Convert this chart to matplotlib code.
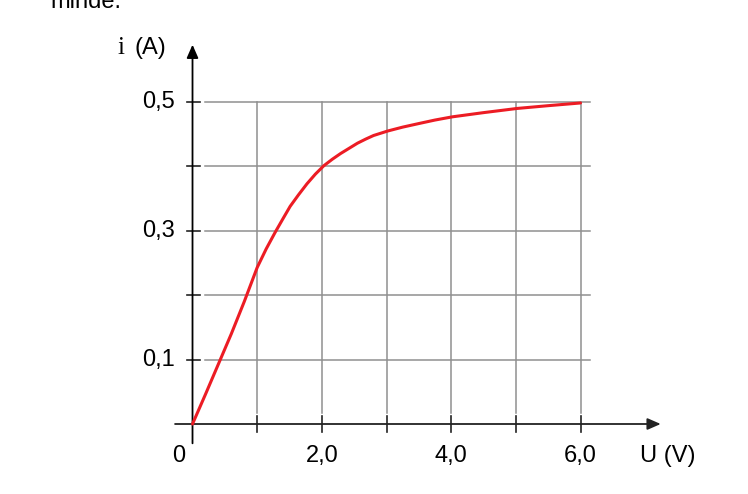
import matplotlib
matplotlib.use("Agg")
import matplotlib.pyplot as plt

# values
u = [0.0, 0.2, 0.4, 0.6, 0.8, 1.0, 1.14, 1.28, 1.4, 1.51, 1.64, 1.77, 1.9,
     2.03, 2.16, 2.29, 2.42, 2.55, 2.68, 2.8, 3.02, 3.25, 3.52, 3.75, 4.02, 4.5,
     5.02, 5.5, 6.0]
i = [0.0, 0.046, 0.093, 0.14, 0.19, 0.243, 0.272, 0.298, 0.319, 0.338, 0.356,
     0.373, 0.388, 0.401, 0.411, 0.42, 0.428, 0.436, 0.4425, 0.448, 0.455, 0.461,
     0.467, 0.472, 0.477, 0.4835, 0.49, 0.4943, 0.4985]

x_grid = [1, 2, 3, 4, 5, 6]
y_grid = [0.1, 0.2, 0.3, 0.4, 0.5]
x_labels = {2: "2,0", 4: "4,0", 6: "6,0"}
y_labels = {0.1: "0,1", 0.3: "0,3", 0.5: "0,5"}

plt.rcParams['font.family'] = ['Liberation Sans', 'DejaVu Sans']
fs = 17

fig = plt.figure(figsize=(7.48, 4.94), dpi=100)
ax = fig.add_axes([0, 0, 1, 1])
ax.set_xlim(-2.977, 8.59)
ax.set_ylim(-0.1087, 0.6584)
ax.axis("off")

grid_col = "#8f8f8f"
for gx in x_grid:
    ax.plot([gx, gx], [0.017, 0.5], color=grid_col, lw=1.1, zorder=1)
for gy in y_grid:
    ax.plot([0.19, 6.15], [gy, gy], color=grid_col, lw=1.1, zorder=1)

# ticks
for gx in x_grid:
    ax.plot([gx, gx], [-0.012, 0.012], color="#222222", lw=1.2, zorder=3)
for gy in y_grid:
    ax.plot([-0.09, 0.12], [gy, gy], color="#222222", lw=1.2, zorder=3)

# axes with arrows
ax.annotate("", xy=(7.24, 0), xytext=(-0.27, 0),
            arrowprops=dict(arrowstyle="-|>,head_length=0.8,head_width=0.35",
                            color="#222222", lw=1.3, shrinkA=0, shrinkB=0), zorder=4)
ax.annotate("", xy=(0, 0.589), xytext=(0, -0.03),
            arrowprops=dict(arrowstyle="-|>,head_length=0.8,head_width=0.35",
                            color="#000000", lw=1.3, shrinkA=0, shrinkB=0), zorder=4)

ax.plot(u, i, color="#ec1c24", lw=2.2, zorder=5,
        solid_capstyle="round", solid_joinstyle="round")

for v, s in y_labels.items():
    ax.text(-0.27, v, s, ha="right", va="center", fontsize=fs)
ax.text(-0.22, -0.049, "0", ha="center", va="center", fontsize=fs)
for v, s in x_labels.items():
    ax.text(v, -0.049, s, ha="center", va="center", fontsize=fs)
ax.text(7.35, -0.049, "U (V)", ha="center", va="center", fontsize=fs)

ax.text(-1.105, 0.584, "i", ha="center", va="center", fontsize=fs + 1,
        family=["Liberation Serif", "DejaVu Serif"])
ax.text(-0.655, 0.584, "(A)", ha="center", va="center", fontsize=fs)

ax.text(-2.2, 0.646, "minde.", ha="left", va="baseline", fontsize=fs)

fig.savefig("out.png", dpi=100)
